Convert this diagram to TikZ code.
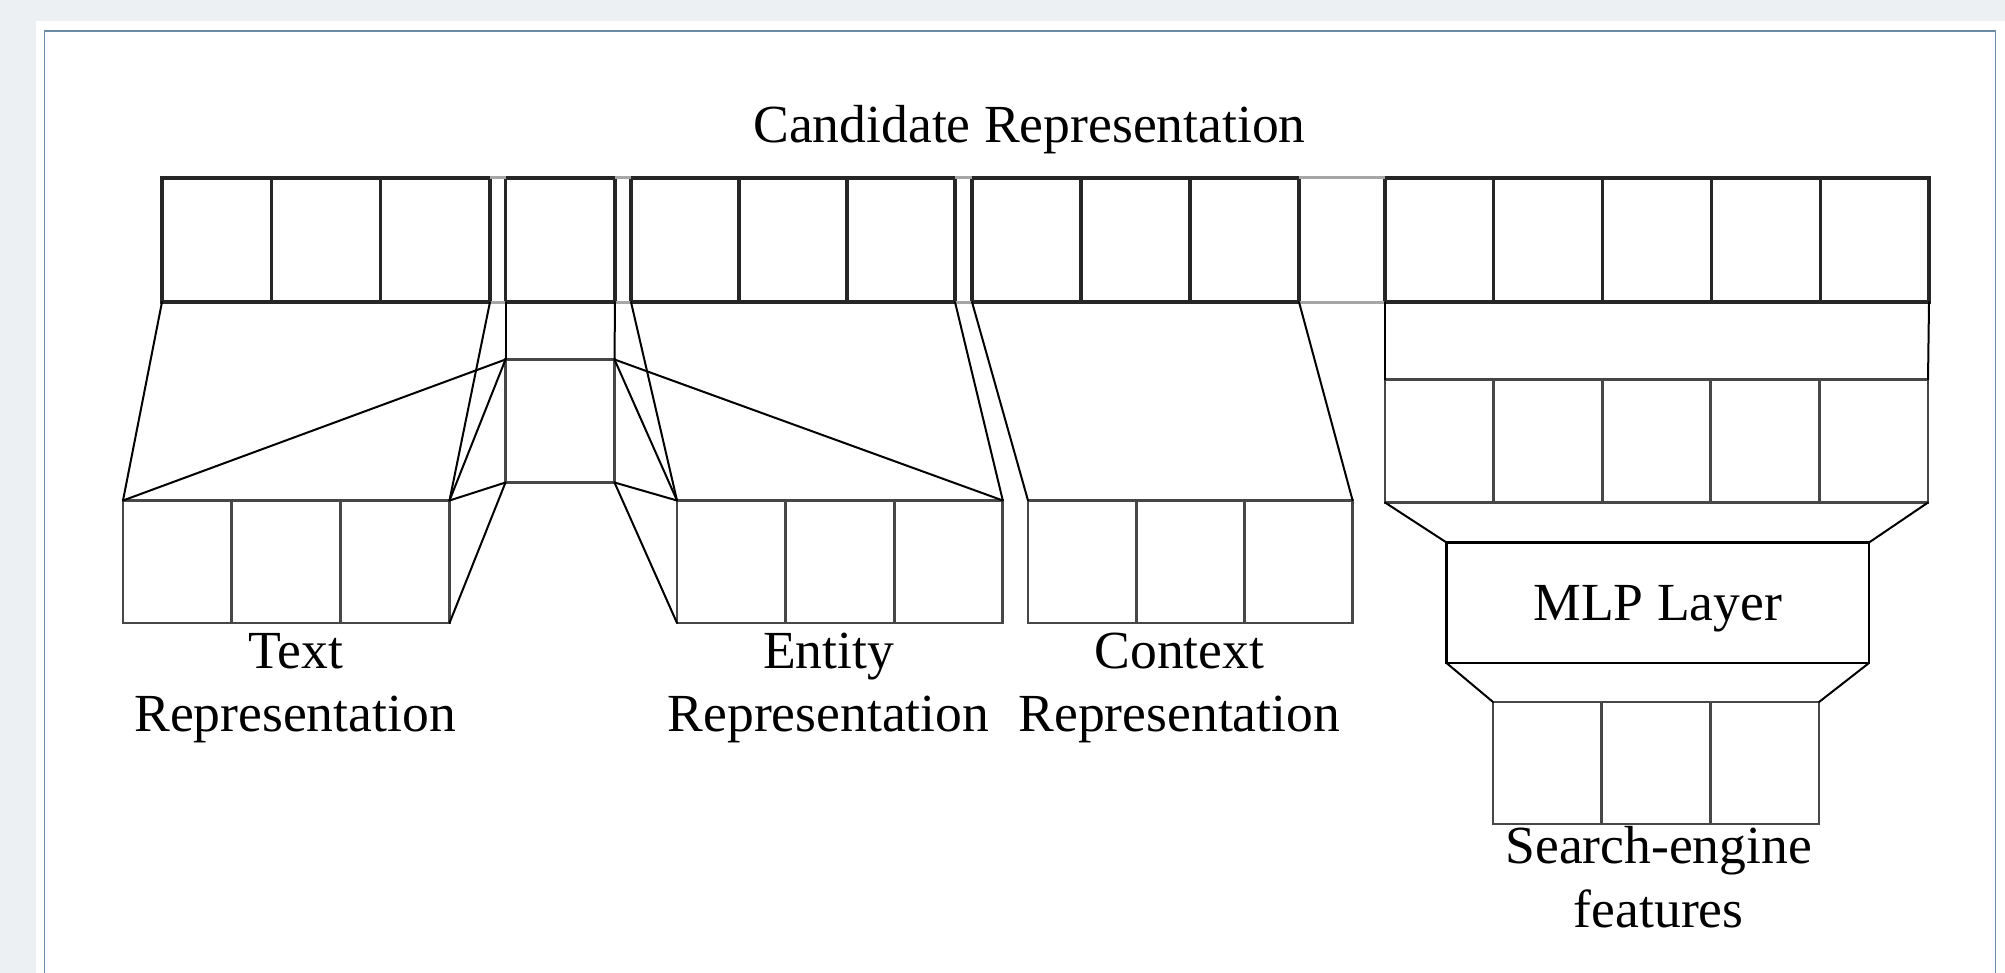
\documentclass[tikz,border=0pt]{standalone}
\usepackage{fontspec}
\setmainfont{Liberation Serif}
\definecolor{bgc}{HTML}{ECF0F3}
\definecolor{framec}{HTML}{6B8BA6}
\tikzset{
  cell/.style={rectangle, draw=black!72, line width=1.4pt, inner sep=0pt, outer sep=0pt},
  topcell/.style={cell, draw=black!85, line width=1.6pt},
  conn/.style={draw=black, line width=1pt, line cap=round},
  faint/.style={draw=black!35, line width=1.5pt},
  lab/.style={font=\fontsize{26.8}{32}\selectfont, inner sep=0pt, outer sep=0pt, anchor=base},
}
% \mkcell[style]{name}{left x}{top y}{width}{height}  (units: px)
\newcommand\mkcell[6][cell]{\node[#1, minimum width=#5*0.5pt, minimum height=#6*0.5pt] (#2) at ({#3+#5/2},{#4+#6/2}) {};}
\begin{document}
\begin{tikzpicture}[x=0.5pt, y=-0.5pt]
\useasboundingbox (0,0) rectangle (2005,973);
% background panel
\fill[bgc] (0,0) rectangle (2005,973);
\fill[white] (35.5,21) rectangle (2005,973);
\draw[framec, line width=0.8pt] (44.5,973) -- (44.5,31) -- (1995.5,31) -- (1995.5,973);

% ---------- top row: candidate representation ----------
\foreach \i in {1,2,3} { \mkcell[topcell]{a\i}{162+(\i-1)*109.33}{178}{109.33}{124} }
\mkcell[topcell]{mt}{505.5}{178}{109.5}{124}
\foreach \i in {1,2,3} { \mkcell[topcell]{b\i}{631+(\i-1)*108}{178}{108}{124} }
\foreach \i in {1,2,3} { \mkcell[topcell]{c\i}{972+(\i-1)*109}{178}{109}{124} }
\foreach \i in {1,...,5} { \mkcell[topcell]{d\i}{1385+(\i-1)*108.8}{178}{108.8}{124} }
% faint joints between groups
\draw[faint] (a3.north east) -- (mt.north west);
\draw[faint] (a3.south east) -- (mt.south west);
\draw[faint] (mt.north east) -- (b1.north west);
\draw[faint] (mt.south east) -- (b1.south west);
\draw[faint] (b3.north east) -- (c1.north west);
\draw[faint] (b3.south east) -- (c1.south west);
\draw[faint] (c3.north east) -- (d1.north west);
\draw[faint] (c3.south east) -- (d1.south west);

% ---------- middle (shared) cell ----------
\mkcell{m}{505.5}{359.5}{109}{123}

% ---------- text representation ----------
\foreach \i in {1,2,3} { \mkcell{t\i}{123+(\i-1)*108.83}{500.5}{108.83}{122.5} }
% ---------- entity representation ----------
\foreach \i in {1,2,3} { \mkcell{e\i}{677+(\i-1)*108.6}{500.5}{108.6}{122.5} }
% ---------- context representation ----------
\foreach \i in {1,2,3} { \mkcell{x\i}{1028+(\i-1)*108.2}{500.5}{108.2}{122.5} }
% ---------- second row on the right ----------
\foreach \i in {1,...,5} { \mkcell{r\i}{1385+(\i-1)*108.6}{379.5}{108.6}{123} }
% ---------- MLP ----------
\node[cell, draw=black, minimum width=422.5*0.5pt, minimum height=120.5*0.5pt,
      font=\fontsize{26.8}{32}\selectfont, text depth=0pt] (mlp) at (1657.75,602.75) {MLP Layer};
% ---------- search-engine features ----------
\foreach \i in {1,2,3} { \mkcell{s\i}{1493+(\i-1)*108.67}{702}{108.67}{122} }

% ---------- connectors ----------
\draw[conn] (a1.south west) -- (t1.north west);
\draw[conn] (a3.south east) -- (t3.north east);
\draw[conn] (mt.south west) -- (m.north west);
\draw[conn] (mt.south east) -- (m.north east);
\draw[conn] (m.north west) -- (t1.north west);
\draw[conn] (m.north west) -- (t3.north east);
\draw[conn] (m.south west) -- (t3.north east);
\draw[conn] (m.south west) -- (t3.south east);
\draw[conn] (b1.south west) -- (e1.north west);
\draw[conn] (b3.south east) -- (e3.north east);
\draw[conn] (m.north east) -- (e3.north east);
\draw[conn] (m.north east) -- (e1.north west);
\draw[conn] (m.south east) -- (e1.north west);
\draw[conn] (m.south east) -- (e1.south west);
\draw[conn] (c1.south west) -- (x1.north west);
\draw[conn] (c3.south east) -- (x3.north east);
\draw[conn] (d1.south west) -- (r1.north west);
\draw[conn] (d5.south east) -- (r5.north east);
\draw[conn] (r1.south west) -- (mlp.north west);
\draw[conn] (r5.south east) -- (mlp.north east);
\draw[conn] (mlp.south west) -- (s1.north west);
\draw[conn] (mlp.south east) -- (s3.north east);

% ---------- labels ----------
\node[lab] (lcand) at (1029.5,143) {Candidate Representation};
\node[lab] (ltxt1) at (296,668) {Text};
\node[lab] (ltxt2) at (295,731.5) {Representation};
\node[lab] (lent1) at (828.5,668) {Entity};
\node[lab] (lent2) at (828.5,731.5) {Representation};
\node[lab] (lctx1) at (1179.3,668) {Context};
\node[lab] (lctx2) at (1179.3,731.5) {Representation};
\node[lab] (lse1) at (1658.7,863) {Search-engine};
\node[lab] (lse2) at (1658.7,927) {features};
\end{tikzpicture}
\end{document}
